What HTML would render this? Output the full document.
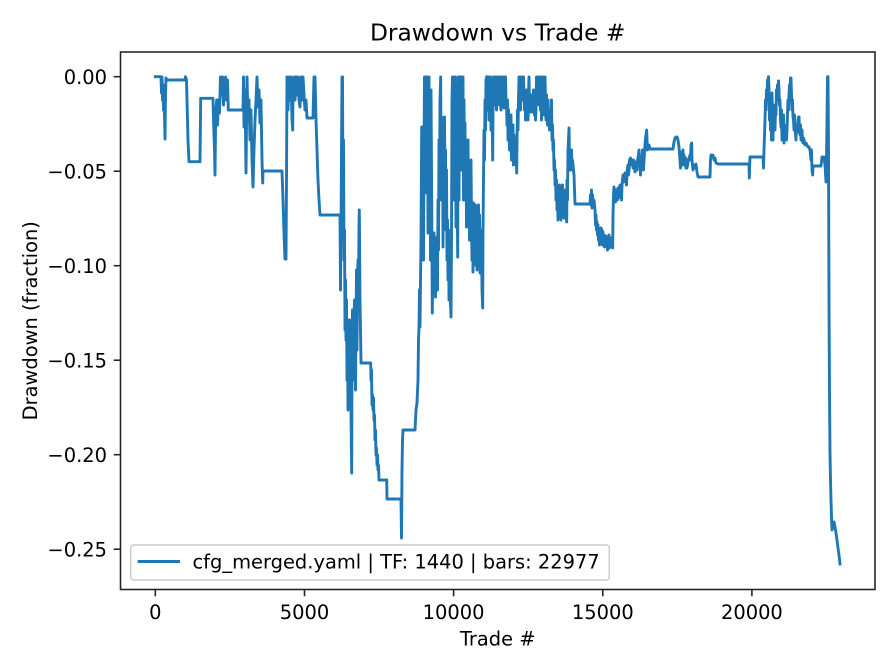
<!DOCTYPE html>
<html>
<head>
<meta charset="utf-8">
<style>
html,body{margin:0;padding:0;background:#fff;}
svg{display:block;}
text{font-family:"DejaVu Sans","Liberation Sans",sans-serif;fill:#000;}
</style>
</head>
<body>
<svg width="896" height="672" viewBox="0 0 896 672" xmlns="http://www.w3.org/2000/svg">
<rect x="0" y="0" width="896" height="672" fill="#fff"/>
<text x="497.7" y="40.3" font-size="23.33" text-anchor="middle">Drawdown vs Trade #</text>

<path fill="none" stroke="#1f77b4" stroke-width="2.9" stroke-linejoin="round" stroke-linecap="square" d="
M155.3,76.7 L161,76.7 161.5,93 162,77 162.5,100 163,85 163.5,110 164,90 165,139 165.5,95 166,78 166.7,80 185,80 185.5,76.7 186.5,80 188,140 189,161.7 200,161.7 200.7,98.3 213,98.3 213.5,120 214.5,150 215,175 215.5,130 216,110 216.7,100 217.5,125 218.5,100 219.5,113 220.5,77 221.5,95 222.5,77 223.5,105 224.5,85 225.5,77 226.5,100 227.5,80 228.3,110 243,110
243.5,77 244,127 245,90 246,173 247,77 248,120 249,100 250,140 251,110 252,160 253,187 254,150 255,120 256,100 257,77 258,107 259,90 260,123 261,100 262,160 262.7,183 263,171 282,171 283,200 284,233 285,259 286,259
286.5,180 287,77 288,110 289,77 290,100 291,77 292,120 292.7,130 293,90 294,77 295,100 296,77 297,95 298,77 299,100 300,107 301,77 302,100 303,77 304,95 305,110 306,100 307,118 313,118 314,77 315,77 316,120 317,150 318,180 319,200 320,215 340,215
340.5,290 341,240 341.5,150 342,77 342.5,77 343,200 343.5,140 344,260 344.5,230 345,330 345.5,280 346,340 346.5,300 347,380 347.5,335 348,410 348.5,350 349,390 349.5,320 350,400 350.5,360 351,413 351.7,473 352,350 352.5,310 353,380 353.5,340 354,320 354.5,300 355,360 355.5,390 356,330 356.5,270 357,350 357.5,280 358,260 358.5,300 359,225 359.3,210 359.7,260 360,300 360.5,330 361,363 370.7,363 371,380 371.5,370 372,405 372.5,395 373,410 373.5,398 374,420 374.5,415 375,440 375.5,430 376,455 376.5,448 377,465 377.5,455 378,470 378.5,465 379,480 386.7,480 387,499 401,499 401.5,538 402,470 402.5,440 403,430 415,430 416,410 417,403 418,380 418.5,340 419,327 419.5,290 420,327
420.5,280 421,240 421.7,127 422.3,200 423,130 423.5,260 424,150 424.5,77 425,193 425.5,77 426,120 426.5,77 427,160 427.5,77 428,233 428.5,100 429,77 429.5,200 430,110 430.5,260 431,90 431.7,200 432.3,313 433,250 433.5,293 434,233 434.5,290 435,240 435.5,297 436,250 436.5,280 437,237 437.5,290 438,200 438.5,250 439,140 439.5,200 440,100 440.7,77 441,160 441.5,117 442,200 442.5,130 443,247 443.5,160 444,200 444.5,117 445,190 445.5,150 446,230 446.5,170 447,260 447.5,220 448,280 448.5,230 449,300 449.5,250 450,290 451,317 451.5,240 452,100 452.5,77 453,160 453.5,77 454,200 454.5,90 455,130 455.5,77 456,227 456.5,100 457,180 457.7,257 458,150 458.5,77 459,200 459.5,77 460,130 460.5,77 461,170 461.5,90 462,77 462.5,150 463,77 463.5,200 464,100 464.5,160 465,123 465.5,200 466,150 466.5,227 467,170 467.5,210 468,140 468.5,200 469,190 469.5,240 470,180 470.5,227 471,160 471.5,220 472,260 472.5,210 473,272 473.5,203 474,250 474.5,215 475,265 475.5,205 476,240 476.5,210 477,270 477.5,230 478,260 478.5,205 479,250 479.5,215 480,273 480.5,230 481,260 481.5,240 482,290 482.7,308 483,230 483.5,180 484,130 484.5,160 485,100 485.5,130 486,80 486.7,76.7 487,110 487.5,77 488,100 488.5,77 489,120 489.5,77 490,95 490.5,77 491,130 491.5,90 492,110 492.7,160 493,110 493.5,77 494,95 494.5,77 495,105 495.5,77 496,90 496.5,110 497,77 497.5,100 498,80 498.5,95 499,77 499.5,105 500,77 500.5,90 501,110 501.5,85 502,77 502.5,100 503,77 503.5,95 504,108 504.5,77 505,90 505.5,77 506,100 506.7,110 507,125 507.5,100 508,140 508.5,110 509,130 509.5,150 510,120 510.5,145 511,115 511.5,160 512,130 512.5,150 513,125 513.5,165 514,135 514.5,155 515,140 515.5,160 516,145 516.7,173 517,140 517.5,110 518,130 518.5,100 519,77 519.5,95 520,77 520.5,110 521,77 521.5,100 522,85 522.5,77 523,100 523.5,77 524,95 524.5,110 525,90 525.5,120 526,100 526.5,115 527,90 527.5,110 528,120 528.5,95 529,77 529.5,105 530,112 530.5,100 531,110 531.5,95 532,112 532.5,100 533,110 533.5,90 534,107 534.5,115 535,100 535.5,120 536,110 536.5,77 537,100 537.5,77 538,90 538.5,77 539,105 539.5,80 540,77 540.5,110 541,90 541.5,120 542,77 542.5,100 543,77 543.5,95 544,115 544.5,90 545,77 545.5,100 546,120 546.5,95 547,110 547.5,125 548,100 548.5,120 549,110 549.5,130 550,115 551,120 551.5,100 552,140 552.5,125 553,150 553.5,140 554,170 554.5,160 555,185 555.5,170 556,200 556.5,180 557,210 557.5,190 558,220 558.5,195 559,215 559.5,185 560,210 560.5,190 561,220 561.5,200 562,215 562.5,185 563,210 563.5,195 564,218 564.5,200 565,212 565.5,190 566,215 566.7,222 567,180 567.5,200 568,150 568.5,140 569,128 569.5,160 570,170 570.5,155 571,165 571.5,150 572,170 572.5,160 573,165 574,175 575,204 590,204
590.5,195 591,205 591.5,190 592,208 592.5,195 593,204 594,200 595,210 595.5,225 596,215 596.5,230 597,222 597.5,235 598,225 598.5,240 599,230 599.5,245 600,232 600.5,242 601,228 601.5,238 602,230 602.5,245 603,232 603.5,240 604,235 604.5,247 605,238 605.5,244 606,236 606.5,246 607,240 607.5,250 608,238 608.5,245 609,235 609.5,248 610,240 610.5,244 611,238 611.5,246 612,242 612.7,248 613,215 613.5,195 614,187 614.5,200 615,192 615.5,202 616,190 616.5,200 617,195 617.5,200 618,188 618.5,198 619,192 620,185 620.5,195 621,190 621.5,200 622,185 622.5,180 623,175 623.5,182 624,178 625,173 625.5,182 626,175 626.5,185 627,172 627.5,168 628,165 628.5,175 629,170 629.5,160 630,165 630.5,158 631,163 632,160 633,168 633.5,160 634,162 635,172 635.5,162 636,165 637,170 637.5,160 638,158 639,150 639.5,162 640,165 640.5,175 641,165 642,160 642.5,150 643,158 643.5,170 644,160 645,145 645.5,138 646,135 646.7,130 647,140 647.5,150 648,145 648.5,148 649,145 650,149 673,149 674,142 675,138 676,137 677,137 678,140 679,147 680,160 680.5,168 681,160 682,152 682.5,158 683,150 683.5,165 684,155 685,165 685.5,158 686,168 686.5,160 687,168 688,162 689,158 690,155 690.5,160 691,145 691.7,143 692,160 693,170 694,165 695,168 696,164 697,172 698,177 710,177 710.5,160 711,155 712,157 713,155 714,160 715,158 716,163 718,164 749,164 749.3,178 749.7,164 750,157 752,157 763,157 763.5,168 764,150 764.5,135 765,120 765.5,100 766,110 766.5,90 767,95 767.5,80 768,100 768.5,76.7 769,90 769.5,120 770,100 770.5,130 771,110 771.5,140 772,93 772.5,120 773,140 773.5,105 774,125 774.5,110 775,130 775.5,105 776,115 776.5,90 777,100 777.5,85 778,95 778.5,81 779,90 779.5,105 780,100 780.5,120 781,127 781.5,110 782,140 782.5,120 783,130 783.5,115 784,143 784.5,125 785,127 785.5,135 786,130 786.5,140 787,130 787.5,115 788,100 788.5,110 789,95 789.5,85 790,90 790.5,78 791,78 791.5,95 792,110 792.5,100 793,117 793.5,120 794,130 794.5,115 795,120 795.5,135 796,140 796.5,125 797,125 797.5,132 798,130 798.5,117 799,117 799.5,130 800,135 800.5,125 801,140 801.5,130 802,130 802.5,140 803,143 803.5,138 804,140 805,145 806,143 807,145 808,147 809,147 810,150 811,160 811.5,150 812,170 812.7,175 813,166 821,166 822,157 823,160 824,157 825,165 826,182 826.5,160 827,120 827.5,76.7 828,76.7 828.5,150 829,300 829.5,393 830,453 830.5,480 831,500 831.7,523 832,530 833,526 834,522 835,527 836,533 837,540 838,548 839,555 840,564"/>

<!-- axes frame -->
<rect x="120.5" y="52" width="754.5" height="537.5" fill="none" stroke="#222" stroke-width="1.56"/>

<!-- x ticks -->
<g stroke="#222" stroke-width="1.56">
<line x1="155.3" y1="589.5" x2="155.3" y2="596.3"/>
<line x1="304.5" y1="589.5" x2="304.5" y2="596.3"/>
<line x1="453.6" y1="589.5" x2="453.6" y2="596.3"/>
<line x1="602.8" y1="589.5" x2="602.8" y2="596.3"/>
<line x1="751.9" y1="589.5" x2="751.9" y2="596.3"/>
<line x1="113.7" y1="76.7" x2="120.5" y2="76.7"/>
<line x1="113.7" y1="171.2" x2="120.5" y2="171.2"/>
<line x1="113.7" y1="265.7" x2="120.5" y2="265.7"/>
<line x1="113.7" y1="360.2" x2="120.5" y2="360.2"/>
<line x1="113.7" y1="454.7" x2="120.5" y2="454.7"/>
<line x1="113.7" y1="549.2" x2="120.5" y2="549.2"/>
</g>

<g font-size="19.44" text-anchor="middle">
<text x="155.3" y="619">0</text>
<text x="304.5" y="619">5000</text>
<text x="453.6" y="619">10000</text>
<text x="602.8" y="619">15000</text>
<text x="751.9" y="619">20000</text>
</g>
<g font-size="19.44" text-anchor="end">
<text x="107" y="84">0.00</text>
<text x="107" y="178.5">−0.05</text>
<text x="107" y="273">−0.10</text>
<text x="107" y="367.5">−0.15</text>
<text x="107" y="462">−0.20</text>
<text x="107" y="556.5">−0.25</text>
</g>

<text x="497.7" y="645.7" font-size="19.44" text-anchor="middle">Trade #</text>
<text transform="translate(37,320.75) rotate(-90)" font-size="19.44" text-anchor="middle">Drawdown (fraction)</text>

<!-- legend -->
<rect x="130.7" y="545" width="478.6" height="35" rx="2.9" ry="2.9" fill="#fff" fill-opacity="0.8" stroke="#cccccc" stroke-width="1.5"/>
<line x1="137.7" y1="561.5" x2="180" y2="561.5" stroke="#1f77b4" stroke-width="2.9"/>
<text x="192.5" y="568.3" font-size="19.44">cfg_merged.yaml | TF: 1440 | bars: 22977</text>
</svg>
</body>
</html>
